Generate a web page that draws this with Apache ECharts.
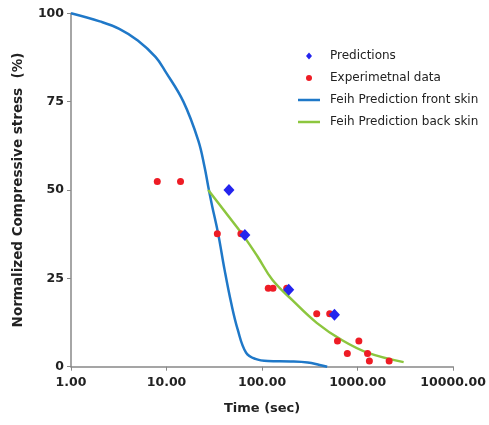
<!DOCTYPE html>
<html>
<head>
<meta charset="utf-8">
<script src="https://cdn.jsdelivr.net/npm/echarts@6/dist/echarts.min.js"></script>
<style>html,body{margin:0;padding:0;background:#fff}#c{width:489px;height:425px}</style>
</head>
<body>
<div id="c"></div>
<script>
// Data
var xTicks = [1, 10, 100, 1000, 10000];
var yTicks = [0, 25, 50, 75, 100];
var predictions = [[45, 50], [66, 37.3], [190, 21.8], [572, 14.7]];
var experimental = [[8, 52.4], [14, 52.4], [34, 37.6], [60, 37.6], [116, 22.2], [130, 22.2], [181, 22.2],
  [373, 15], [510, 15], [615, 7.3], [1030, 7.3], [780, 3.7], [1270, 3.7], [1327, 1.6], [2137, 1.6]];
var frontSkin = [[1, 100], [2, 97.7], [3.2, 95.6], [5, 92.3], [7.7, 87.6], [9.75, 83.5], [15, 75],
  [21.5, 64], [25, 56.5], [27.3, 51], [30, 45.5], [34.6, 37.8], [40.5, 27.4], [47.5, 18], [55.7, 10.4],
  [67.9, 4], [85, 2.2], [115, 1.6], [200, 1.5], [300, 1.2], [400, 0.5], [480, 0]];
var backSkin = [[27.3, 50], [41.9, 43.5], [62.8, 37.3], [89.6, 31.2], [128, 24.6], [206, 18.9],
  [373, 12.4], [677, 7.6], [1286, 3.9], [3030, 1.3]];

var chart = echarts.init(document.getElementById('c'));
var lblFont = 'DejaVu Sans';
var legendText = { fontFamily: lblFont, fontSize: 12, color: '#222' };
chart.setOption({
  animation: false,
  backgroundColor: '#fff',
  grid: { left: 71, right: 31, top: 13.3, bottom: 58.3 },
  legend: [
    {
      orient: 'vertical', left: 306, top: 50, padding: 0,
      itemWidth: 6, itemHeight: 7, itemGap: 10,
      textStyle: Object.assign({ padding: [0, 0, 0, 13] }, legendText),
      data: [{ name: 'Predictions', icon: 'diamond' }, { name: 'Experimetnal data', icon: 'circle' }]
    },
    {
      orient: 'vertical', left: 298, top: 94, padding: 0,
      itemWidth: 22, itemHeight: 2.5, itemGap: 10,
      textStyle: Object.assign({ padding: [0, 0, 0, 5] }, legendText),
      data: [{ name: 'Feih Prediction front skin', icon: 'rect' }, { name: 'Feih Prediction back skin', icon: 'rect' }]
    }
  ],
  xAxis: {
    type: 'log', logBase: 10, min: 1, max: 10000,
    name: 'Time (sec)', nameLocation: 'middle', nameGap: 35,
    nameTextStyle: { fontFamily: lblFont, fontWeight: 'bold', fontSize: 13, color: '#222' },
    axisLine: { lineStyle: { color: '#888', width: 1.5 } },
    axisTick: { show: true, length: 4, lineStyle: { color: '#888' } },
    minorTick: { show: false },
    splitLine: { show: false },
    axisLabel: {
      margin: 10, fontFamily: lblFont, fontWeight: 'bold', fontSize: 12.5, color: '#222',
      formatter: function (v) { return xTicks.indexOf(v) >= 0 ? v.toFixed(2) : ''; }
    }
  },
  yAxis: {
    type: 'value', min: 0, max: 100, interval: 25,
    name: 'Normalized Compressive stress  (%)', nameLocation: 'middle', nameGap: 46,
    nameTextStyle: { fontFamily: lblFont, fontWeight: 'bold', fontSize: 13.5, color: '#222' },
    axisLine: { show: true, lineStyle: { color: '#888', width: 1.5 } },
    axisTick: { show: true, length: 4, lineStyle: { color: '#888' } },
    splitLine: { show: false },
    axisLabel: {
      margin: 7, fontFamily: lblFont, fontWeight: 'bold', fontSize: 12.5, color: '#222',
      formatter: function (v) { return yTicks.indexOf(v) >= 0 ? String(v) : ''; }
    }
  },
  series: [
    {
      name: 'Feih Prediction front skin', type: 'line', data: frontSkin, smooth: 0.4,
      showSymbol: false, symbol: 'none', z: 2,
      lineStyle: { color: '#1f78c8', width: 2.5 }, itemStyle: { color: '#1f78c8' }
    },
    {
      name: 'Feih Prediction back skin', type: 'line', data: backSkin, smooth: 0.4,
      showSymbol: false, symbol: 'none', z: 2,
      lineStyle: { color: '#8cc63e', width: 2.5 }, itemStyle: { color: '#8cc63e' }
    },
    {
      name: 'Experimetnal data', type: 'scatter', data: experimental, symbol: 'circle', symbolSize: 7, z: 3,
      itemStyle: { color: '#ee1c25', opacity: 1 }
    },
    {
      name: 'Predictions', type: 'scatter', data: predictions, symbol: 'diamond', symbolSize: [11, 12], z: 4,
      itemStyle: { color: '#2424ee', opacity: 1 }
    }
  ]
});
</script>
</body>
</html>
